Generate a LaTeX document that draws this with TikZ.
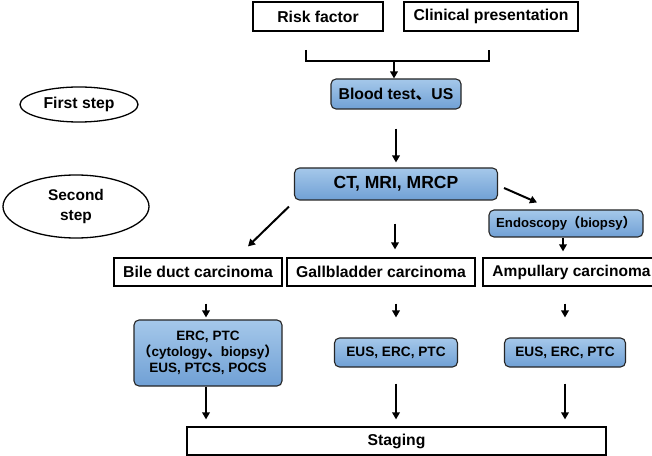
\documentclass[tikz,border=0pt]{standalone}
\usepackage{fontspec}
\setmainfont{Liberation Sans}
\newfontfamily\cjk{Noto Sans CJK SC}
\usetikzlibrary{arrows.meta,shapes.geometric}
\definecolor{blueTop}{RGB}{165,200,234}
\definecolor{blueBot}{RGB}{112,160,213}

\begin{document}
\begin{tikzpicture}[x=1bp,y=-1bp,
  font=\fontsize{15.8}{19}\selectfont\bfseries,
  plainbox/.style={draw,line width=1.2bp,inner sep=0pt,minimum width=#1,minimum height=28bp},
  bluebox/.style 2 args={draw=black!85,line width=1.1bp,rounded corners=5bp,top color=blueTop,bottom color=blueBot,inner sep=0pt,minimum width=#1,minimum height=#2,align=center},
  stepoval/.style 2 args={draw,ellipse,line width=1.3bp,inner sep=0pt,minimum width=#1,minimum height=#2,align=center},
  arr/.style={line width=2bp,-{Triangle[length=7bp,width=7.5bp]}}]
\clip (0,0) rectangle (652,456);
\fill[white] (0,0) rectangle (652,456);

\node[plainbox=130bp,minimum height=29bp] (risk) at (318,16.5) {Risk factor};
\node[plainbox=174bp,minimum height=29bp] (clin) at (491,16.5) {Clinical presentation};
\node[bluebox={130bp}{30bp}] (blood) at (396,94) {Blood test{\cjk 、}US};
\node[stepoval={118bp}{35bp}] (first) at (79,104.5) {First step};
\node[stepoval={146bp}{63bp},font=\fontsize{15.5}{20}\selectfont\bfseries] (second) at (76,206.5) {Second\\step};
\node[bluebox={203bp}{32bp},font=\fontsize{17.6}{21}\selectfont\bfseries] (ct) at (396,184) {CT, MRI, MRCP};
\node[bluebox={154bp}{27bp},font=\fontsize{13.2}{16}\selectfont\bfseries] (endo) at (566,223.5) {Endoscopy{\cjk （}biopsy{\cjk ）}};
\node[plainbox=168bp] (bile) at (198,272) {Bile duct carcinoma};
\node[plainbox=188bp] (gall) at (381,272) {Gallbladder carcinoma};
\node[plainbox=177bp,font=\fontsize{15.6}{19}\selectfont\bfseries] (amp) at (571.5,272) {Ampullary carcinoma};
\node[bluebox={148bp}{66bp},font=\fontsize{13.6}{16}\selectfont\bfseries] (erc) at (208,353) {ERC, PTC\\{\cjk （}cytology{\cjk 、}biopsy{\cjk ）}\\EUS, PTCS, POCS};
\node[bluebox={123bp}{29bp},font=\fontsize{13.7}{16}\selectfont\bfseries] (eus1) at (396,352.5) {EUS, ERC, PTC};
\node[bluebox={121bp}{29bp},font=\fontsize{13.7}{16}\selectfont\bfseries] (eus2) at (565,352.5) {EUS, ERC, PTC};
\node[plainbox=419bp] (staging) at (396.5,441) {Staging};

\coordinate (bl) at (306,50);
\coordinate (br) at (489,50);
\coordinate (jn) at (394,61);
\draw[line width=2bp] (bl) |- (jn) -| (br);
\draw[arr] (jn) -- (jn |- blood.north);

\draw[arr,shorten <=19bp,shorten >=5bp] (blood.south) -- (blood.south |- ct.north);
\draw[arr] ([xshift=6bp,yshift=-4bp]ct.east) -- ([xshift=-29bp,yshift=7bp]endo.north);
\draw[arr,shorten >=6bp] ([xshift=-3bp]endo.south) -- ([xshift=-3bp]endo.south |- amp.north);
\draw[arr,shorten <=23bp,shorten >=8bp] ([xshift=-1bp]ct.south) -- ([xshift=-1bp]ct.south |- gall.north);
\draw[arr] ([xshift=-5bp,yshift=-6bp]ct.south west) -- ([xshift=50bp,yshift=11bp]bile.north);

\draw[arr,shorten <=17bp,shorten >=2bp] ([xshift=-2bp]erc.north |- bile.south) -- ([xshift=-2bp]erc.north);
\draw[arr,shorten <=17bp,shorten >=20bp] (eus1.north |- gall.south) -- (eus1.north);
\draw[arr,shorten <=17bp,shorten >=20bp] (eus2.north |- amp.south) -- (eus2.north);

\draw[arr,shorten >=7bp] ([xshift=-2bp]erc.south) -- ([xshift=-2bp]erc.south |- staging.north);
\draw[arr,shorten <=16bp,shorten >=7bp] (eus1.south) -- (eus1.south |- staging.north);
\draw[arr,shorten <=16bp,shorten >=7bp] (eus2.south) -- (eus2.south |- staging.north);
\end{tikzpicture}
\end{document}
